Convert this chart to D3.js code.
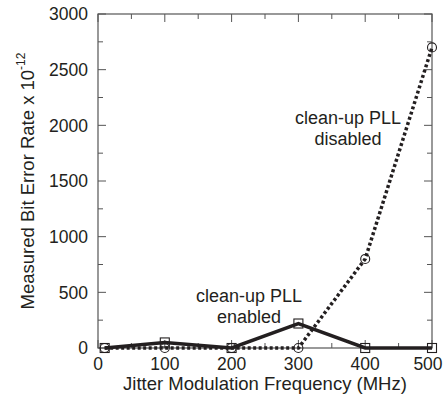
<!DOCTYPE html>
<html><head><meta charset="utf-8">
<script src="https://cdn.jsdelivr.net/npm/d3@7"></script>
<style>
html,body{margin:0;padding:0;background:#fff;}
text{font-family:"Liberation Sans",Arimo,Arial,Helvetica,sans-serif;fill:#231f20;}
</style></head>
<body>
<svg id="chart" width="444" height="401"></svg>
<script>
const freqs = [10, 100, 200, 300, 400, 500];
const enabledBER = [0, 50, 0, 220, 0, 0];
const disabledBER = [0, 0, 0, 0, 800, 2700];
const xTickLabels = [0, 100, 200, 300, 400, 500];
const yTickLabels = [0, 500, 1000, 1500, 2000, 2500, 3000];
const xTitle = "Jitter Modulation Frequency (MHz)";
const yTitle = "Measured Bit Error Rate x 10";
const yTitleSup = "-12";
const annotDisabled = ["clean-up PLL", "disabled"];
const annotEnabled = ["clean-up PLL", "enabled"];

const svg = d3.select("#chart");
const L = 98, R = 432, T = 14, B = 348;
const x = d3.scaleLinear().domain([0, 500]).range([L, R]);
const y = d3.scaleLinear().domain([0, 3000]).range([B, T]);
const axisColor = "#555";

// minor/major ticks
const xt = d3.range(0, 501, 50);
const yt = d3.range(0, 3001, 250);
const g = svg.append("g");
xt.forEach(v => {
  const len = v % 100 === 0 ? 8 : 5;
  g.append("line").attr("x1", x(v)).attr("x2", x(v)).attr("y1", B).attr("y2", B - len).attr("stroke", axisColor).attr("stroke-width", 1);
  g.append("line").attr("x1", x(v)).attr("x2", x(v)).attr("y1", T).attr("y2", T + len).attr("stroke", axisColor).attr("stroke-width", 1);
});
yt.forEach(v => {
  const len = v % 500 === 0 ? 8 : 5;
  g.append("line").attr("x1", L).attr("x2", L + len).attr("y1", y(v)).attr("y2", y(v)).attr("stroke", axisColor).attr("stroke-width", 1);
  g.append("line").attr("x1", R).attr("x2", R - len).attr("y1", y(v)).attr("y2", y(v)).attr("stroke", axisColor).attr("stroke-width", 1);
});
// frame
svg.append("rect").attr("x", L).attr("y", T).attr("width", R - L).attr("height", B - T)
  .attr("fill", "none").attr("stroke", axisColor).attr("stroke-width", 1.2);

// tick labels
svg.selectAll(".xl").data(xTickLabels).enter().append("text")
  .attr("x", d => Math.min(x(d), 428)).attr("y", 370).attr("text-anchor", "middle")
  .attr("font-size", 17.5).text(d => d);
svg.selectAll(".yl").data(yTickLabels).enter().append("text")
  .attr("x", 88).attr("y", d => y(d)).attr("dy", "0.36em").attr("text-anchor", "end")
  .attr("font-size", 17.5).text(d => d);

// titles
svg.append("text").attr("x", (L + R) / 2).attr("y", 390).attr("text-anchor", "middle")
  .attr("font-size", 18.5).text(xTitle);
const yt2 = svg.append("text").attr("transform", `translate(34,${(T + B) / 2}) rotate(-90)`)
  .attr("text-anchor", "middle").attr("font-size", 18.5);
yt2.append("tspan").text(yTitle);
yt2.append("tspan").attr("font-size", 12).attr("dy", -9).text(yTitleSup);

// lines
const line = d3.line().x(d => x(d[0])).y(d => y(d[1]));
const dis = freqs.map((f, i) => [f, disabledBER[i]]);
const en = freqs.map((f, i) => [f, enabledBER[i]]);
svg.append("path").attr("d", line(dis)).attr("fill", "none").attr("stroke", "#231f20")
  .attr("stroke-width", 3.5).attr("stroke-dasharray", "3,2.5");
svg.append("path").attr("d", line(en)).attr("fill", "none").attr("stroke", "#231f20")
  .attr("stroke-width", 3.5).attr("stroke-linejoin", "miter");

// markers
svg.selectAll(".circ").data(dis).enter().append("circle")
  .attr("cx", d => x(d[0])).attr("cy", d => y(d[1])).attr("r", 4.5)
  .attr("fill", "none").attr("stroke", "#231f20").attr("stroke-width", 1.1);
svg.selectAll(".sq").data(en).enter().append("rect")
  .attr("x", d => x(d[0]) - 4.5).attr("y", d => y(d[1]) - 4.5).attr("width", 9).attr("height", 9)
  .attr("fill", "none").attr("stroke", "#231f20").attr("stroke-width", 1.1);

// annotations
function annot(lines, cx, y0) {
  const t = svg.append("text").attr("text-anchor", "middle").attr("font-size", 18);
  lines.forEach((s, i) => t.append("tspan").attr("x", cx).attr("y", y0 + i * 21).text(s));
}
annot(annotDisabled, 348, 124);
annot(annotEnabled, 249, 302);
</script>
</body></html>
